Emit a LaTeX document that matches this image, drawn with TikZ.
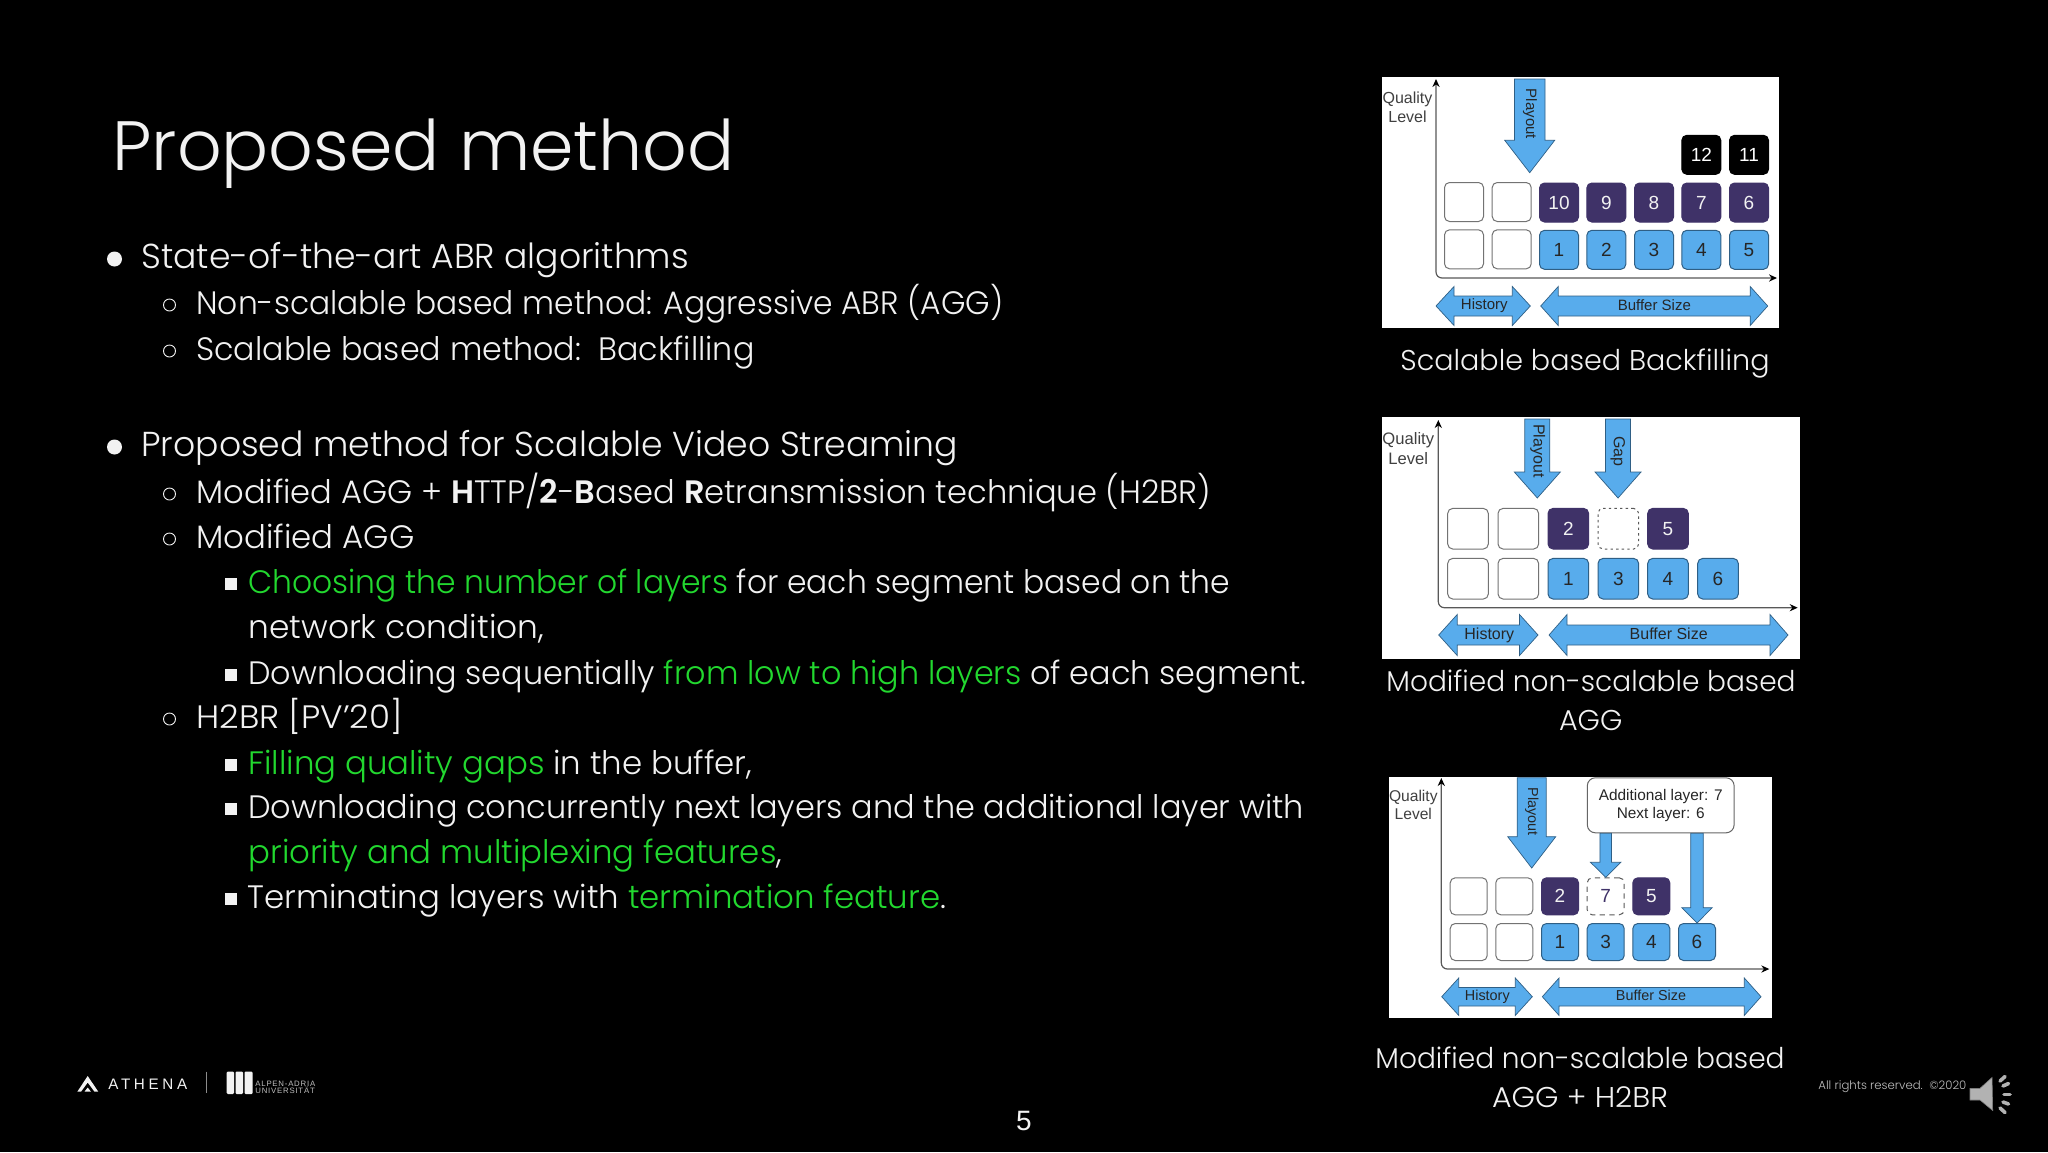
\documentclass[tikz,border=0pt]{standalone}
\usepackage{fontspec}
\setmainfont{Poppins Light}[BoldFont={Poppins SemiBold}]
\newfontfamily\diagfont{Liberation Sans}
\usetikzlibrary{arrows.meta,calc}
\definecolor{cellblue}{HTML}{58ACEC}
\definecolor{edgeblue}{HTML}{2F5F85}
\definecolor{cellpurple}{HTML}{3F3268}
\definecolor{hlgreen}{HTML}{22D82F}
\definecolor{softwhite}{HTML}{F2F2F2}
\newcommand{\hl}[1]{\textcolor{hlgreen}{#1}}
% vertical block arrow: start, tip, half shaft, half head, head length
\newcommand{\downarrowshape}[5]{\draw [fatarrow] ($(#1)+(-#3,0)$) -- ($(#2)+(-#3,-#5)$) -- ($(#2)+(-#4,-#5)$) -- (#2) -- ($(#2)+(#4,-#5)$) -- ($(#2)+(#3,-#5)$) -- ($(#1)+(#3,0)$) -- cycle;}
% horizontal double block arrow: left tip, right tip, half shaft, half head, head length
\newcommand{\spanarrowshape}[5]{\draw [fatarrow] (#1) -- ($(#1)+(#5,-#4)$) -- ($(#1)+(#5,-#3)$) -- ($(#2)+(-#5,-#3)$) -- ($(#2)+(-#5,-#4)$) -- (#2) -- ($(#2)+(-#5,#4)$) -- ($(#2)+(-#5,#3)$) -- ($(#1)+(#5,#3)$) -- ($(#1)+(#5,#4)$) -- cycle;}
\tikzset{
  fatarrow/.style={draw=edgeblue,fill=cellblue,line width=0.35pt},
  panelbox/.style={fill=white,draw=none},
  axisline/.style={draw=black!65,line width=0.6pt,rounded corners=3pt,{Stealth[length=4pt,width=3.6pt,black]}-{Stealth[length=4pt,width=3.6pt,black]}},
  bodytext/.style={anchor=base west,inner sep=0pt,text=softwhite,font=\fontsize{16.2}{20}\selectfont},
  headtext/.style={bodytext,font=\fontsize{17.3}{20}\selectfont},
  captext/.style={anchor=base,inner sep=0pt,text=softwhite,font=\fontsize{14.3}{18}\selectfont},
  difflabel/.style={inner sep=0pt,text=black!75,font=\diagfont\fontsize{8}{9.7}\selectfont,align=center},
  arrowlabel/.style={inner sep=0pt,text=black!85,font=\diagfont\fontsize{7.5}{9}\selectfont},
  dotbullet/.style={circle,fill=softwhite,inner sep=0pt,minimum size=7.5pt},
  ringbullet/.style={circle,draw=softwhite,line width=0.45pt,inner sep=0pt,minimum size=6pt},
  squarebullet/.style={rectangle,fill=softwhite,inner sep=0pt,minimum size=6.2pt},
  cellbase/.style={rectangle,rounded corners=2.5pt,inner sep=0pt,line width=0.5pt,font=\diagfont\fontsize{9.5}{10}\selectfont},
  emptycell/.style={cellbase,draw=black!55,fill=white},
  gapcell/.style={cellbase,draw=black!65,fill=white,dashed,text=cellpurple},
  lowcell/.style={cellbase,draw=edgeblue,fill=cellblue,text=black!85},
  highcell/.style={cellbase,draw=cellpurple,fill=cellpurple,text=softwhite},
  topcell/.style={cellbase,draw=black,fill=black,text=white},
  sizea/.style={minimum size=19.5pt},
  sizeb/.style={minimum size=20.3pt},
  sizec/.style={minimum size=18.5pt}
}
\begin{document}
\begin{tikzpicture}[x=0.5pt,y=0.5pt,yscale=-1,xscale=1]
\fill [black] (0,0) rectangle (2048,1152);
\useasboundingbox (0,0) rectangle (2048,1152);

% Title
\node (title) [anchor=base west,inner sep=0pt,text=softwhite,font=\fontsize{34.9}{40}\selectfont] at (112,170) {Proposed method};

% Bullets
\node (dot1) [dotbullet] at (114.5,259) {};
\node (dot2) [dotbullet] at (114.5,447) {};
\node (ring1) [ringbullet] at (169.5,305) {};
\node (ring2) [ringbullet] at (169.5,351) {};
\node (ring3) [ringbullet] at (169.5,494) {};
\node (ring4) [ringbullet] at (169.5,539) {};
\node (ring5) [ringbullet] at (169.5,719) {};
\node (square1) [squarebullet] at (231,584) {};
\node (square2) [squarebullet] at (231,675) {};
\node (square3) [squarebullet] at (231,765) {};
\node (square4) [squarebullet] at (231,809) {};
\node (square5) [squarebullet] at (231,899) {};

% Text lines
\node (line1) [headtext] at (141,268) {State-of-the-art ABR algorithms};
\node (line2) [bodytext] at (196,314) {\scalebox{.967}[1]{Non-scalable based method: Aggressive ABR (AGG)}};
\node (line3) [bodytext] at (196,360) {\scalebox{.979}[1]{Scalable based method:\ \ Backfilling}};
\node (line4) [headtext] at (141,456) {Proposed method for Scalable Video Streaming};
\node (line5) [bodytext] at (196,503) {\scalebox{.991}[1]{Modified AGG + \textbf{H}TTP/\textbf{2}-\textbf{B}ased \textbf{R}etransmission technique (H2BR)}};
\node (line6) [bodytext] at (196,548) {Modified AGG};
\node (line7) [bodytext] at (248,593) {\scalebox{.968}[1]{\hl{Choosing the number of layers} for each segment based on the}};
\node (line8) [bodytext] at (248,638) {\scalebox{1.013}[1]{network condition,}};
\node (line9) [bodytext] at (248,684) {\scalebox{.982}[1]{Downloading sequentially \hl{from low to high layers} of each segment.}};
\node (line10) [bodytext] at (196,728) {\scalebox{1.053}[1]{H2BR [PV’20]}};
\node (line11) [bodytext] at (248,774) {\hl{Filling quality gaps} in the buffer,};
\node (line12) [bodytext] at (248,818) {\scalebox{.985}[1]{Downloading concurrently next layers and the additional layer with}};
\node (line13) [bodytext] at (248,863) {\hl{priority and multiplexing features},};
\node (line14) [bodytext] at (247,908) {Terminating layers with \hl{termination feature}.};

%Panel: Backfilling
\fill [panelbox] (1382,77) rectangle (1779,328);
\coordinate (ytop1) at (1436,79);
\coordinate (bend1) at (1436,278);
\coordinate (xend1) at (1777,278);
\draw [axisline] (ytop1) -- (bend1) -- (xend1);
\node (quality1) [difflabel] at (1407.5,107) {Quality\\Level};
\coordinate (playstart1) at (1529.7,79);
\coordinate (playtip1) at (1529.7,172.7);
\downarrowshape{playstart1}{playtip1}{15.3}{25}{32.4}
\node (playlabel1) [arrowlabel,rotate=-90] at (1530,114) {Playout};
\node (e1a) [emptycell,sizea] at (1464,249.3) {};
\node (e1b) [emptycell,sizea] at (1511.7,249.3) {};
\node (e1c) [emptycell,sizea] at (1464,202) {};
\node (e1d) [emptycell,sizea] at (1511.7,202) {};
\node (a1) [lowcell,sizea] at (1559,249.8) {1};
\node (a2) [lowcell,sizea] at (1606.3,249.8) {2};
\node (a3) [lowcell,sizea] at (1654,249.8) {3};
\node (a4) [lowcell,sizea] at (1701.3,249.8) {4};
\node (a5) [lowcell,sizea] at (1749,249.8) {5};
\node (a10) [highcell,sizea] at (1559,202.5) {10};
\node (a9) [highcell,sizea] at (1606.3,202.5) {9};
\node (a8) [highcell,sizea] at (1654,202.5) {8};
\node (a7) [highcell,sizea] at (1701.3,202.5) {7};
\node (a6) [highcell,sizea] at (1749,202.5) {6};
\node (a12) [topcell,sizea] at (1701.3,154.8) {12};
\node (a11) [topcell,sizea] at (1749,154.8) {11};
\coordinate (histl1) at (1436,306);
\coordinate (histr1) at (1530.3,306);
\coordinate (bufl1) at (1540.7,306);
\coordinate (bufr1) at (1767.7,306);
\spanarrowshape{histl1}{histr1}{10}{19.5}{18}
\spanarrowshape{bufl1}{bufr1}{10}{19.5}{17.5}
\node (histlabel1) [arrowlabel] at (1484.3,306) {History};
\node (buflabel1) [arrowlabel] at (1654.3,305.5) {Buffer Size};
\node (caption1) [captext] at (1585,370) {Scalable based Backfilling};

%Panel: modified AGG
\fill [panelbox] (1381.7,417.3) rectangle (1800,659);
\coordinate (ytop2) at (1438.3,420);
\coordinate (bend2) at (1438.3,607.7);
\coordinate (xend2) at (1797.7,607.7);
\draw [axisline] (ytop2) -- (bend2) -- (xend2);
\node (quality2) [difflabel,font=\diagfont\fontsize{8.3}{10}\selectfont] at (1408.3,448.7) {Quality\\Level};
\coordinate (playstart2) at (1537.3,419);
\coordinate (playtip2) at (1537.3,498);
\downarrowshape{playstart2}{playtip2}{12.5}{23}{26}
\coordinate (gapstart2) at (1618,419);
\coordinate (gaptip2) at (1618,498);
\downarrowshape{gapstart2}{gaptip2}{12.5}{23}{26}
\node (playlabel2) [arrowlabel,rotate=-90,font=\diagfont\fontsize{8}{9}\selectfont] at (1537.7,451) {Playout};
\node (gaplabel2) [arrowlabel,rotate=-90,font=\diagfont\fontsize{8}{9}\selectfont] at (1617.7,451.3) {Gap};
\node (e2a) [emptycell,sizeb] at (1468,578.7) {};
\node (e2b) [emptycell,sizeb] at (1518.3,578.7) {};
\node (e2c) [emptycell,sizeb] at (1468,528.7) {};
\node (e2d) [emptycell,sizeb] at (1518.3,528.7) {};
\node (b1) [lowcell,sizeb] at (1568.3,578.7) {1};
\node (b3) [lowcell,sizeb] at (1618.3,578.7) {3};
\node (b4) [lowcell,sizeb] at (1668,578.7) {4};
\node (b6) [lowcell,sizeb] at (1718,578.7) {6};
\node (b2) [highcell,sizeb] at (1568.3,528.7) {2};
\node (bgap) [gapcell,sizeb,dash pattern=on 1.2pt off 1.6pt] at (1618.3,528.7) {};
\node (b5) [highcell,sizeb] at (1668,528.7) {5};
\coordinate (histl2) at (1438.7,635);
\coordinate (histr2) at (1538,635);
\coordinate (bufl2) at (1549,635);
\coordinate (bufr2) at (1788,635);
\spanarrowshape{histl2}{histr2}{10}{20.5}{18.5}
\spanarrowshape{bufl2}{bufr2}{10}{20.5}{18}
\node (histlabel2) [arrowlabel,font=\diagfont\fontsize{8}{9}\selectfont] at (1489.3,635) {History};
\node (buflabel2) [arrowlabel,font=\diagfont\fontsize{8}{9}\selectfont] at (1668.7,634) {Buffer Size};
\node (caption2) [captext] at (1591,691.5) {\scalebox{.98}[1]{Modified non-scalable based}};
\node (caption2b) [captext] at (1590.7,730) {AGG};

%Panel: modified AGG + H2BR
\fill [panelbox] (1389,776.7) rectangle (1772,1018.3);
\coordinate (ytop3) at (1441.3,778);
\coordinate (bend3) at (1441.3,969);
\coordinate (xend3) at (1769.3,969);
\draw [axisline] (ytop3) -- (bend3) -- (xend3);
\node (quality3) [difflabel,font=\diagfont\fontsize{7.8}{9.3}\selectfont] at (1413.3,805) {Quality\\Level};
\coordinate (playstart3) at (1531.7,777.7);
\coordinate (playtip3) at (1531.7,868);
\downarrowshape{playstart3}{playtip3}{14.5}{24}{31.3}
\node (playlabel3) [arrowlabel,rotate=-90,font=\diagfont\fontsize{7.2}{9}\selectfont] at (1531.7,811.7) {Playout};
\node (e3a) [emptycell,sizec] at (1468.7,942) {};
\node (e3b) [emptycell,sizec] at (1514.3,942) {};
\node (e3c) [emptycell,sizec] at (1468.7,896.3) {};
\node (e3d) [emptycell,sizec] at (1514.3,896.3) {};
\node (c1) [lowcell,sizec] at (1560,942) {1};
\node (c3) [lowcell,sizec] at (1605.7,942) {3};
\node (c4) [lowcell,sizec] at (1651.3,942) {4};
\node (c6) [lowcell,sizec] at (1697,942) {6};
\node (c2) [highcell,sizec] at (1560,896.3) {2};
\node (c7) [gapcell,sizec,dash pattern=on 2.6pt off 2.2pt] at (1605.7,896.3) {7};
\node (c5) [highcell,sizec] at (1651.3,896.3) {5};
\node (notebox) [rectangle,rounded corners=4pt,draw=black!60,fill=white,line width=0.5pt,minimum width=73.4pt,minimum height=27.5pt,inner sep=0pt,text=black!85,align=center,font=\diagfont\fontsize{7.7}{9.3}\selectfont] at (1660.7,805.3) {Additional layer: 7\\Next layer: 6};
\coordinate (notea) at (notebox.south -| c7.north);
\coordinate (noteb) at (notebox.south -| c6.north);
\downarrowshape{notea}{c7.north}{5.8}{15.2}{15}
\downarrowshape{noteb}{c6.north}{6.3}{15.2}{15.3}
\coordinate (histl3) at (1441.7,996.7);
\coordinate (histr3) at (1532.3,996.7);
\coordinate (bufl3) at (1542.3,996.7);
\coordinate (bufr3) at (1761,996.7);
\spanarrowshape{histl3}{histr3}{9.3}{18.7}{17}
\spanarrowshape{bufl3}{bufr3}{9.3}{18.7}{16.7}
\node (histlabel3) [arrowlabel,font=\diagfont\fontsize{7.2}{9}\selectfont] at (1487.3,996.5) {History};
\node (buflabel3) [arrowlabel,font=\diagfont\fontsize{7.2}{9}\selectfont] at (1651,995.5) {Buffer Size};
\node (caption3) [captext] at (1580,1068.5) {\scalebox{.98}[1]{Modified non-scalable based}};
\node (caption3b) [captext] at (1580,1107) {\scalebox{1.05}[1]{AGG + H2BR}};

%Footer logo
\fill [softwhite] (77.3,1091.7) -- (87.7,1076) -- (98.3,1091.7) -- (94.5,1091.7) -- (87.7,1082.5) -- (81,1091.7) -- cycle;
\fill [softwhite] (84.5,1091.7) -- (87.7,1087.5) -- (91,1091.7) -- cycle;
\node (athena) [anchor=west,inner sep=0pt,text=softwhite,font=\diagfont\fontsize{7.6}{9}\selectfont\addfontfeature{LetterSpace=24}] at (108,1084.5) {ATHENA};
\draw [black!45!white,line width=0.5pt] (206.7,1071.7) -- (206.7,1093.3);
\fill [softwhite,rounded corners=0.6pt] (226.7,1071.5) rectangle (234,1094);
\fill [softwhite,rounded corners=0.6pt] (235.5,1071.5) rectangle (243,1094);
\fill [softwhite,rounded corners=0.6pt] (244.5,1071.5) rectangle (252.7,1094);
\node (aau1) [anchor=west,inner sep=0pt,text=black!25!white,font=\diagfont\fontsize{3.9}{5}\selectfont\addfontfeature{LetterSpace=10}] at (255,1083.3) {ALPEN-ADRIA};
\node (aau2) [anchor=west,inner sep=0pt,text=black!25!white,font=\diagfont\fontsize{3.9}{5}\selectfont\addfontfeature{LetterSpace=10}] at (255,1090.7) {UNIVERSITÄT};

%Footer right
\node (pagenum) [inner sep=0pt,text=softwhite,font=\diagfont\fontsize{14}{16}\selectfont] at (1024,1121) {5};
\node (rights) [anchor=west,inner sep=0pt,text=black!25!white,font=\fontsize{5.85}{8}\selectfont] at (1818,1086.5) {All rights reserved.\ \ ©2020};
\fill [black!30!white,draw=black!50!white,line width=0.3pt] (1970,1088.3) -- (1980,1088.3) -- (1992,1077.5) -- (1992.7,1110.5) -- (1980,1100) -- (1970,1100) -- cycle;
\draw [black!30!white,line width=1.8pt,line cap=round] (2000,1081) -- (2005,1076.5);
\draw [black!30!white,line width=1.8pt,line cap=round] (2003,1086) -- (2008.5,1083.5);
\draw [black!30!white,line width=1.8pt,line cap=round] (2004,1094.5) -- (2010,1094.5);
\draw [black!30!white,line width=1.8pt,line cap=round] (2003,1102) -- (2008.5,1104);
\draw [black!30!white,line width=1.8pt,line cap=round] (2000,1108) -- (2005,1112.5);

\end{tikzpicture}
\end{document}
